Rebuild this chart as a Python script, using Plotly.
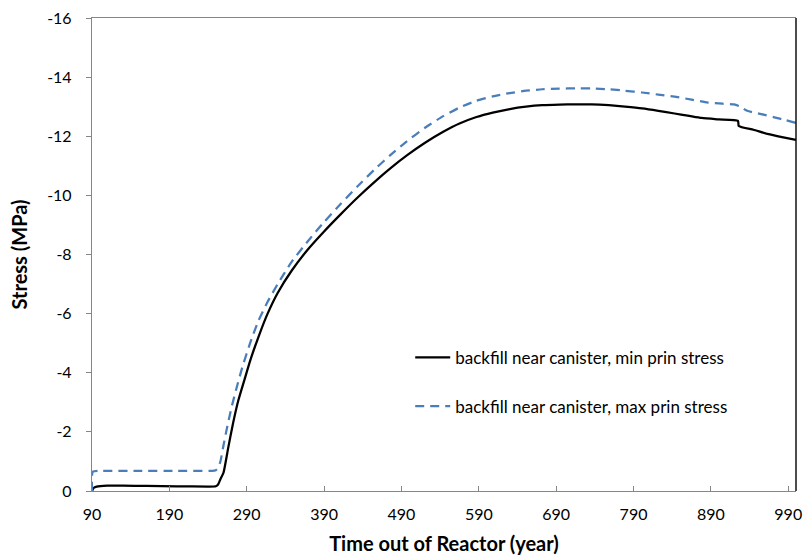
import plotly.graph_objects as go

# Time out of reactor (years) and principal stresses in the backfill (MPa)
years_min = [90, 92, 96, 110, 130, 160, 200, 240, 250, 253, 256, 260, 266, 272,
             279, 287.5, 295, 305, 317, 330, 348, 369, 390, 411, 433, 455, 476,
             497, 520, 544, 565, 587, 608, 630, 651, 672, 694, 715, 736, 758,
             779, 801, 822, 843, 860, 878, 900, 925, 926, 945, 963, 982, 1000]
stress_min = [0, -0.10, -0.15, -0.18, -0.18, -0.17, -0.16, -0.15, -0.16, -0.22,
              -0.40, -0.62, -1.45, -2.25, -3.05, -3.8, -4.45, -5.2, -6.0, -6.7,
              -7.45, -8.17, -8.78, -9.35, -9.92, -10.45, -10.92, -11.35, -11.77,
              -12.15, -12.43, -12.65, -12.8, -12.92, -13.0, -13.05, -13.07,
              -13.08, -13.08, -13.05, -13.0, -12.94, -12.86, -12.77, -12.70,
              -12.62, -12.57, -12.52, -12.35, -12.22, -12.08, -11.97, -11.88]

years_max = [90, 91, 100, 150, 200, 245, 250, 253, 256, 260, 265, 270.4, 277,
             285, 295, 305, 317, 330, 348, 369, 390, 411, 433, 455, 476, 497,
             520, 544, 565, 587, 608, 630, 651, 672, 694, 715, 736, 758, 779,
             801, 822, 843, 865, 886, 905, 920, 928, 937, 955, 972, 986, 1000]
stress_max = [0, -0.65, -0.68, -0.68, -0.68, -0.68, -0.70, -0.78, -1.0, -1.55,
              -2.2, -2.83, -3.5, -4.25, -5.05, -5.75, -6.4, -7.0, -7.75, -8.45,
              -9.1, -9.7, -10.3, -10.87, -11.37, -11.83, -12.28, -12.68, -12.97,
              -13.2, -13.35, -13.46, -13.54, -13.59, -13.61, -13.62, -13.62,
              -13.59, -13.54, -13.48, -13.41, -13.34, -13.24, -13.14, -13.1,
              -13.08, -13.0, -12.86, -12.75, -12.64, -12.55, -12.45]

x_ticks = list(range(90, 1000, 100))
y_ticks = list(range(-16, 1, 2))

FONT = "Lato, 'Open Sans', sans-serif"

fig = go.Figure()
fig.add_trace(go.Scatter(
    x=years_min, y=stress_min, mode="lines",
    name="backfill near canister, min prin stress",
    line=dict(color="#000000", width=2.25, shape="spline", smoothing=0.5),
    legend="legend",
))
fig.add_trace(go.Scatter(
    x=years_max, y=stress_max, mode="lines",
    name="backfill near canister, max prin stress",
    line=dict(color="#4A7EBB", width=2.25, dash="9px,6px",
              shape="spline", smoothing=0.5),
    legend="legend2",
))

axis_grey = "#868686"

fig.update_layout(
    width=810, height=559,
    margin=dict(l=92, r=8, t=15, b=68),
    paper_bgcolor="white", plot_bgcolor="white",
    font=dict(family=FONT, size=16, color="#000000"),
    xaxis=dict(
        range=[90, 1000], tickvals=x_ticks, ticktext=[str(v) for v in x_ticks],
        ticks="inside", ticklen=5, tickcolor=axis_grey,
        showline=True, linecolor=axis_grey, linewidth=1.3, mirror=True,
        showgrid=False, zeroline=False, ticklabelstandoff=9,
        tickfont=dict(size=16),
        title=dict(text="<b>Time out of Reactor (year)</b>",
                   font=dict(size=20), standoff=14),
    ),
    yaxis=dict(
        range=[0, -16], tickvals=y_ticks, ticktext=[str(v) for v in y_ticks],
        ticks="outside", ticklen=5, tickcolor=axis_grey,
        showline=True, linecolor=axis_grey, linewidth=1.3,
        showgrid=False, zeroline=False, ticklabelstandoff=11,
        tickfont=dict(size=16),
        title=dict(text="<b>Stress (MPa)</b>", font=dict(size=20), standoff=14),
    ),
    legend=dict(
        x=0.452, y=0.2815, xanchor="left", yanchor="middle",
        bgcolor="rgba(0,0,0,0)", font=dict(size=17), itemwidth=35,
    ),
    legend2=dict(
        x=0.452, y=0.1786, xanchor="left", yanchor="middle",
        bgcolor="rgba(0,0,0,0)", font=dict(size=17), itemwidth=35,
    ),
    showlegend=True,
)

# Dark right-hand frame edge of the plotting area
fig.add_shape(type="line", xref="paper", yref="paper", x0=1, x1=1, y0=0, y1=1,
              line=dict(color="#000000", width=1.4))

fig.write_html("out.html")
